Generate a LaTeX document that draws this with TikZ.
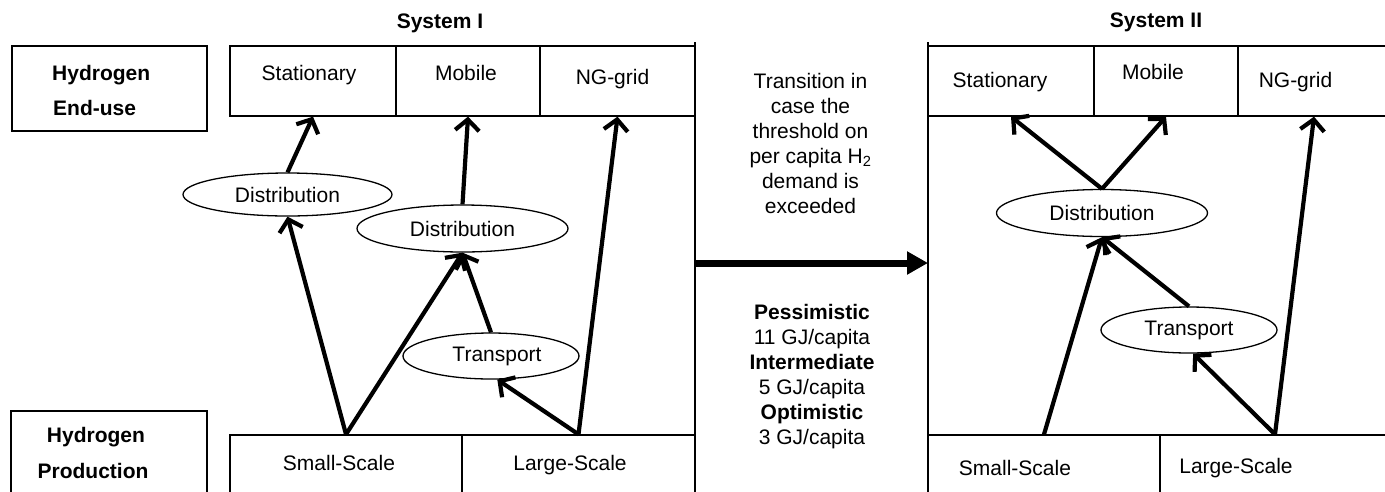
\documentclass[tikz,border=0pt]{standalone}
\usepackage{fontspec}
\setmainfont{Liberation Sans}
\usetikzlibrary{arrows.meta,shapes.geometric}
\begin{document}
\begin{tikzpicture}[x=1pt,y=-1pt,
  every node/.style={font=\fontsize{21}{25}\selectfont, inner sep=0pt},
  cellbox/.style 2 args={draw, line width=1.3pt, rectangle, minimum width=#1, minimum height=#2},
  oval/.style 2 args={draw, line width=1.3pt, ellipse, minimum width=#1, minimum height=#2},
  lbl/.style={anchor=base},
  flow/.style={line width=4.2pt, -{Straight Barb[length=11pt,width=24pt]}},
  frameline/.style={line width=1.3pt}]
\useasboundingbox (0,0) rectangle (1385,491);

% left-hand row captions
\node[cellbox={195pt}{85pt}] (endusebox) at (109.5,88.5) {};
\node[cellbox={196pt}{84pt}] (prodbox) at (109,453) {};
\node[lbl, anchor=base west] (capA) at (52,80) {\bfseries Hydrogen};
\node[lbl, anchor=base west] (capB) at (53,115) {\bfseries End-use};
\node[lbl] (capC) at (96,442) {\bfseries Hydrogen};
\node[lbl] (capD) at (93,478) {\bfseries Production};

% ---------- System I ----------
\node[lbl] (titleA) at (440,28) {\bfseries System I};
\draw[frameline] (695,42) -- (695,495);
\node[cellbox={166pt}{70pt}] (stat1) at (313,81) {};
\node[cellbox={144pt}{70pt}] (mob1) at (468,81) {};
\node[cellbox={155pt}{70pt}] (ng1) at (617.5,81) {};
\node[lbl] (tstat1) at (309,80) {Stationary};
\node[lbl] (tmob1) at (466,80) {Mobile};
\node[lbl] (tng1) at (612.5,84) {NG-grid};

\node[cellbox={232pt}{60pt}] (ss1) at (346,465) {};
\node[cellbox={233pt}{60pt}] (ls1) at (578.5,465) {};
\node[lbl] (tss1) at (339,470) {Small-Scale};
\node[lbl] (tls1) at (570,470) {Large-Scale};

\node[oval={209pt}{43pt}] (dist1) at (287.5,194.5) {Distribution};
\node[oval={211pt}{47pt}] (dist2) at (462.5,228.5) {Distribution};
\node[oval={176pt}{46pt}] (tr1) at (491,356) {\hspace{12pt}Transport};

\draw[flow] (dist1.north) -- (stat1.south);
\draw[flow] (ss1.north) -- (dist1.south);
\draw[flow] (ss1.north) -- (dist2.south);
\draw[flow] (dist2.north) -- (mob1.south);
\draw[flow] (tr1.north) -- (dist2.south);
\draw[flow] (ls1.north) -- (tr1.-75);
\draw[flow] (ls1.north) -- (ng1.south);

% ---------- transition ----------
\coordinate (fromI) at (695,263);
\coordinate (toII) at (928,263);
\draw[line width=7pt, -{Triangle[length=21pt,width=22pt]}] (fromI) -- (toII);
% multi-line nodes: the base anchor sits on the last line
\node[lbl, align=center] (cond) at (810.5,213)
  {Transition in\\case the\\threshold on\\per capita H\textsubscript{2}\\demand is\\exceeded};
\node[lbl, align=center] (levels) at (812,444)
  {\bfseries Pessimistic\\11 GJ/capita\\\bfseries Intermediate\\5 GJ/capita\\\bfseries Optimistic\\3 GJ/capita};

% ---------- System II ----------
\node[lbl] (titleB) at (1156,27) {\bfseries System II};
\draw[frameline] (928,42) -- (928,495);
\node[cellbox={166pt}{70pt}] (stat2) at (1011,81) {};
\node[cellbox={144pt}{70pt}] (mob2) at (1166,81) {};
\node[cellbox={152pt}{70pt}] (ng2) at (1314,81) {};
\node[lbl] (tstat2) at (1000,87) {Stationary};
\node[lbl] (tmob2) at (1153,79) {Mobile};
\node[lbl] (tng2) at (1295.5,87) {NG-grid};

\node[cellbox={232pt}{60pt}] (ss2) at (1044,465) {};
\node[cellbox={230pt}{60pt}] (ls2) at (1275,465) {};
\node[lbl] (tss2) at (1015,475) {Small-Scale};
\node[lbl] (tls2) at (1236,473) {Large-Scale};

\node[oval={211pt}{47pt}] (dist3) at (1102,213) {Distribution};
\node[oval={176pt}{46pt}] (tr2) at (1189,330) {Transport};

\draw[flow] (dist3.north) -- (stat2.south);
\draw[flow] (dist3.north) -- (mob2.south);
\draw[flow] (ss2.north) -- (dist3.south);
\draw[flow] (tr2.north) -- (dist3.south);
\draw[flow] (ls2.north) -- (tr2.-80);
\draw[flow] (ls2.north) -- (ng2.south);
\end{tikzpicture}
\end{document}
